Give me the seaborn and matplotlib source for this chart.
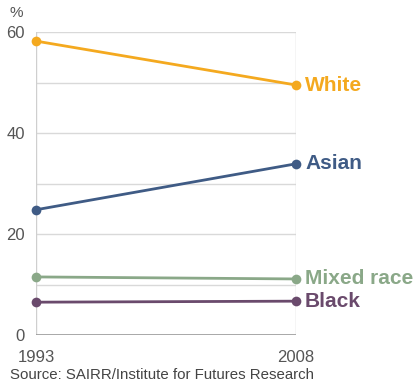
import matplotlib
matplotlib.use("Agg")
import matplotlib.pyplot as plt
import seaborn as sns
import pandas as pd

# Population share by group, per cent
years = [1993, 2008]
groups = ["White", "Asian", "Mixed race", "Black"]
white = [58.2, 49.5]
asian = [24.8, 33.9]
mixed_race = [11.5, 11.1]
black = [6.5, 6.7]
y_ticks = [0, 20, 40, 60]
y_ticklabels = ["0", "20", "40", "60"]
source_note = "Source: SAIRR/Institute for Futures Research"

colors = {
    "White": "#f4a91f",
    "Asian": "#3f5b85",
    "Mixed race": "#8aa888",
    "Black": "#6a4a6c",
}

df = pd.DataFrame({
    "year": years * 4,
    "share": white + asian + mixed_race + black,
    "group": [g for g in groups for _ in years],
})

sns.set_style("white")
plt.rcParams["font.family"] = ["Liberation Sans", "DejaVu Sans"]

fig = plt.figure(figsize=(4.2, 3.83), dpi=100)
ax = fig.add_axes([36 / 420, 1 - 335 / 383, 260 / 420, 303 / 383])

# light horizontal grid every 10 points, darker baseline at zero
for v in range(10, 70, 10):
    ax.axhline(v, color="#d9d9d9", lw=1.0, zorder=0)
ax.axhline(0, color="#9a9a9a", lw=1.2, zorder=1)
for x in years:
    ax.axvline(x, color="#cfcfcf", lw=1.0, zorder=0)

sns.lineplot(data=df, x="year", y="share", hue="group", hue_order=groups,
             palette=colors, marker="o", markersize=7, markeredgewidth=0,
             linewidth=2.0, legend=False, ax=ax, clip_on=False, zorder=3)

ax.set_xlim(years[0], years[-1])
ax.set_ylim(0, 60)
for s in ax.spines.values():
    s.set_visible(False)
ax.set_xlabel("")
ax.set_ylabel("")
ax.set_yticks(y_ticks)
ax.set_yticklabels(y_ticklabels)
ax.set_xticks(years)
ax.set_xticklabels([str(y) for y in years])
ax.tick_params(axis="both", length=0, labelsize=12, colors="#555555")
ax.tick_params(axis="y", pad=8)
ax.tick_params(axis="x", pad=11)

# direct labels at line ends
for g, vals in zip(groups, [white, asian, mixed_race, black]):
    ax.annotate(g, xy=(years[-1], vals[-1]), xytext=(6.5, 0),
                textcoords="offset points", va="center", ha="left",
                fontsize=15, fontweight="bold", color=colors[g],
                annotation_clip=False)

fig.text(9 / 420, 1 - 13 / 383, "%", fontsize=11, color="#555555",
         ha="left", va="center")
fig.text(10 / 420, 1 - 375 / 383, source_note, fontsize=10.8,
         color="#444444", ha="left", va="center")

fig.savefig("out.png", dpi=100)
